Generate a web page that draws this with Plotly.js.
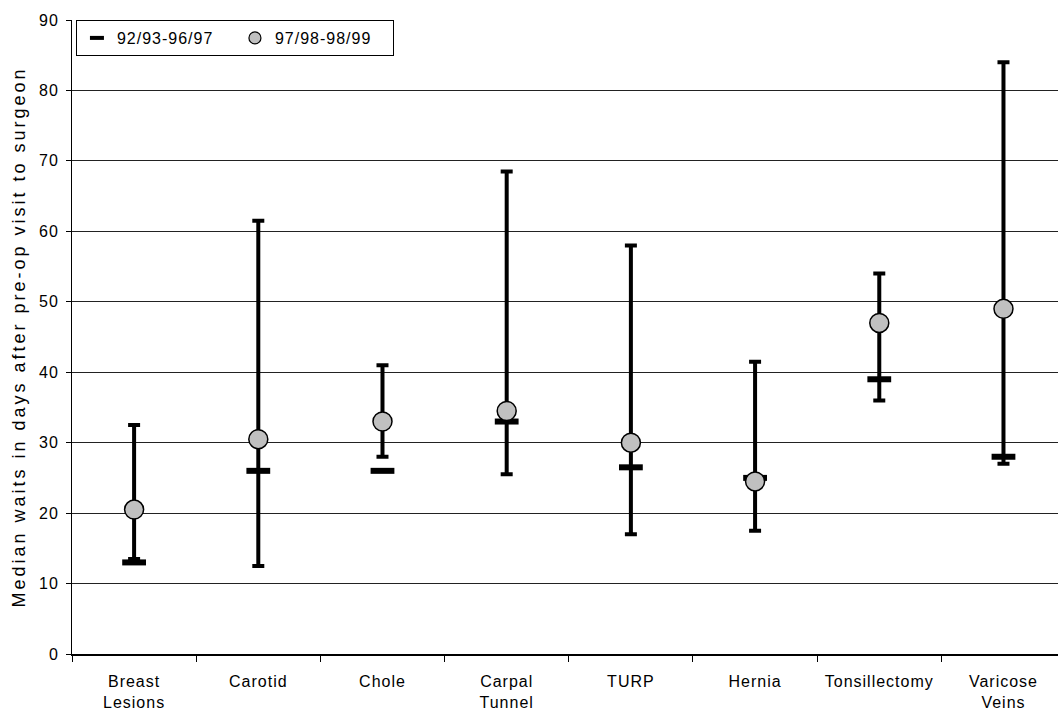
<!DOCTYPE html>
<html>
<head>
<meta charset="utf-8">
<script src="https://cdn.plot.ly/plotly-3.0.1.min.js"></script>
<style>html,body{margin:0;padding:0;background:#fff;}#chart{width:1058px;height:710px;}</style>
</head>
<body>
<div id="chart"></div>
<script>
const categories = ["Breast<br>Lesions", "Carotid", "Chole", "Carpal<br>Tunnel", "TURP", "Hernia", "Tonsillectomy", "Varicose<br>Veins"];
const highValues = [32.5, 61.5, 41, 68.5, 58, 41.5, 54, 84];
const lowValues = [13.5, 12.5, 28, 25.5, 17, 17.5, 36, 27];
const period1Values = [13, 26, 26, 33, 26.5, 25, 39, 28];
const period2Values = [20.5, 30.5, 33, 34.5, 30, 24.5, 47, 49];
const seriesNames = ["92/93-96/97", "97/98-98/99"];
const yTitle = 'Median waits in days after pre-op visit to surgeon';

const fontFam = '"Liberation Sans", Arial, sans-serif';

const rangeTrace = {
  x: categories,
  y: lowValues,
  type: 'scatter',
  mode: 'markers',
  marker: {size: 1, color: 'rgba(0,0,0,0)'},
  error_y: {
    type: 'data',
    symmetric: false,
    array: highValues.map((h, i) => h - lowValues[i]),
    arrayminus: lowValues.map(() => 0),
    color: '#000',
    thickness: 4,
    width: 6
  },
  showlegend: false,
  hoverinfo: 'skip'
};

const p1Trace = {
  x: categories,
  y: period1Values,
  name: seriesNames[0],
  type: 'scatter',
  mode: 'markers',
  showlegend: false,
  marker: {symbol: 'line-ew', size: 17, color: '#000', line: {color: '#000', width: 6}}
};

const p2Trace = {
  x: categories,
  y: period2Values,
  name: seriesNames[1],
  type: 'scatter',
  mode: 'markers',
  showlegend: false,
  marker: {symbol: 'circle', size: 19, color: '#c0c0c0', line: {color: '#000', width: 1.5}}
};

// legend-only representations (no data points)
const p1Legend = {
  x: [null], y: [null], name: seriesNames[0], type: 'scatter', mode: 'markers',
  marker: {symbol: 'line-ew', size: 10, color: '#000', line: {color: '#000', width: 4}}
};
const p2Legend = {
  x: [null], y: [null], name: seriesNames[1], type: 'scatter', mode: 'markers',
  marker: {symbol: 'circle', size: 12, color: '#c0c0c0', line: {color: '#000', width: 1.2}}
};

const layout = {
  width: 1058,
  height: 710,
  margin: {l: 72, r: 0, t: 20, b: 56},
  paper_bgcolor: '#fff',
  plot_bgcolor: '#fff',
  font: {family: fontFam, size: 16, color: '#000'},
  showlegend: true,
  legend: {
    orientation: 'h',
    x: 0.004, xanchor: 'left',
    y: 1, yanchor: 'top',
    bgcolor: '#fff',
    bordercolor: '#000',
    borderwidth: 1,
    font: {family: fontFam, size: 16, color: '#000'},
    entrywidth: 113,
    itemwidth: 30,
    tracegroupgap: 0
  },
  xaxis: {
    type: 'category',
    range: [-0.5, 7.439],
    showline: true,
    linecolor: '#000',
    linewidth: 1.5,
    ticks: 'outside',
    tickson: 'boundaries',
    ticklen: 6,
    tickcolor: '#000',
    showgrid: false,
    zeroline: false,
    ticklabelstandoff: 12,
    tickfont: {family: fontFam, size: 16, color: '#000'}
  },
  yaxis: {
    range: [0, 90],
    tickvals: [0, 10, 20, 30, 40, 50, 60, 70, 80, 90],
    showline: true,
    linecolor: '#000',
    linewidth: 1,
    ticks: 'outside',
    ticklen: 5,
    tickcolor: '#000',
    showgrid: true,
    gridcolor: '#222',
    gridwidth: 1,
    zeroline: false,
    ticklabelstandoff: 4,
    tickfont: {family: fontFam, size: 16, color: '#000'},
    title: {text: yTitle, font: {family: fontFam, size: 18, color: '#000'}, standoff: 10}
  }
};

const gd = document.getElementById('chart');
Plotly.newPlot(gd, [rangeTrace, p1Trace, p2Trace, p1Legend, p2Legend], layout, {displayModeBar: false, staticPlot: true}).then(() => {
  gd.querySelectorAll('.xtick text, .ytick text, .legendtext').forEach(t => { t.style.letterSpacing = '1px'; });
  gd.querySelectorAll('.ytitle').forEach(t => { t.style.letterSpacing = '3px'; });
});
</script>
</body>
</html>
